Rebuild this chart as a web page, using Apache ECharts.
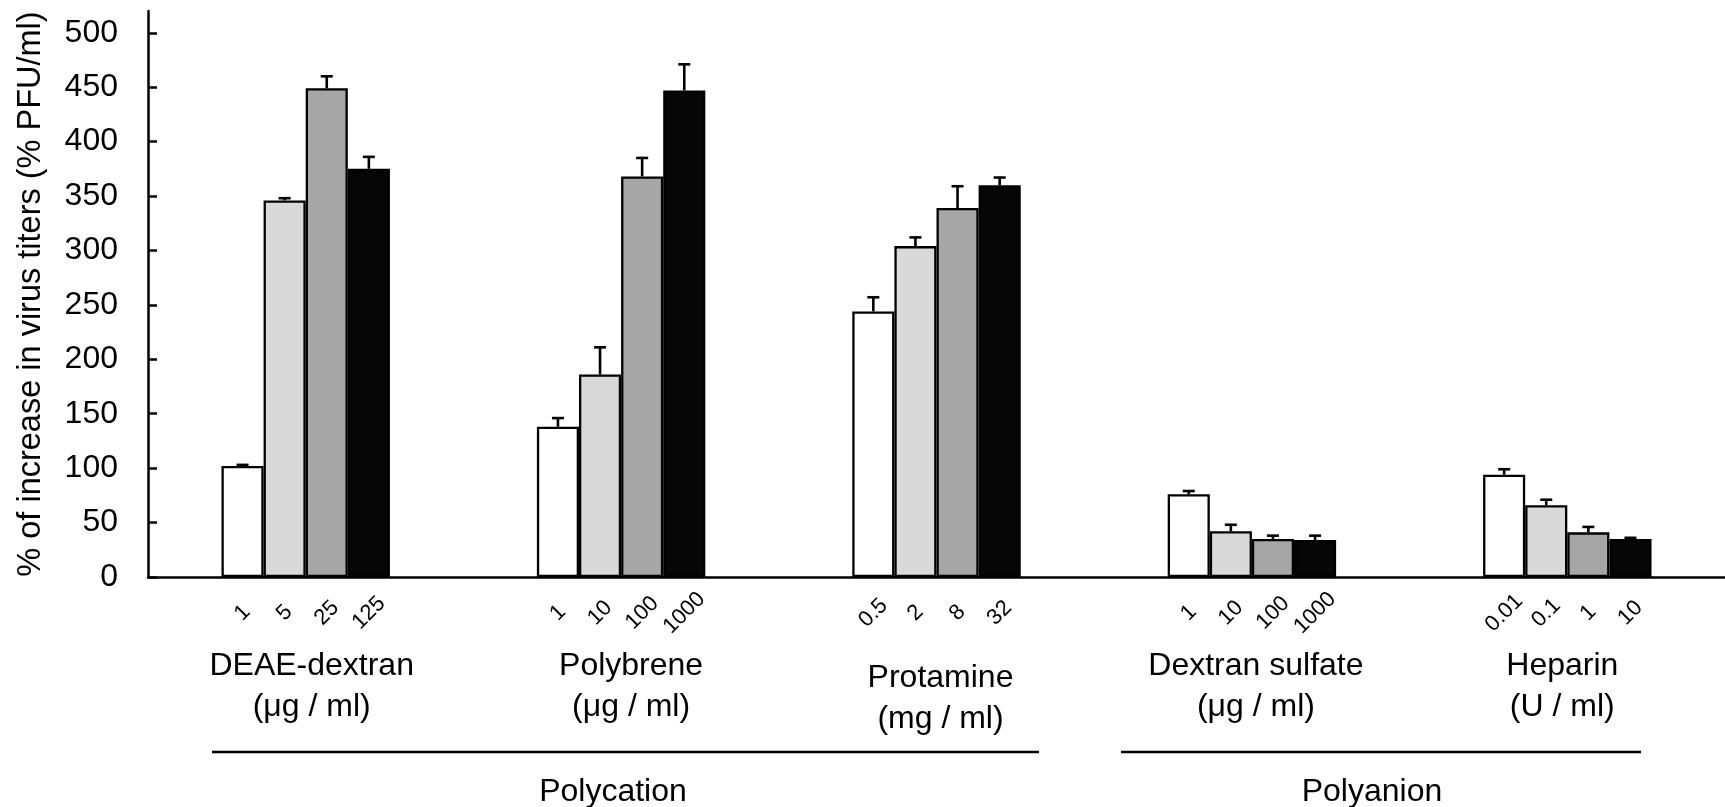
<!DOCTYPE html>
<html>
<head>
<meta charset="utf-8">
<script src="https://cdn.jsdelivr.net/npm/echarts@6/dist/echarts.min.js"></script>
<style>
  html, body { margin: 0; padding: 0; background: #fff; }
  #chart { width: 1725px; height: 807px; }
</style>
</head>
<body>
<div id="chart"></div>
<script>
// Agents (x categories), two-line labels
const agents = ['DEAE-dextran\n(μg / ml)', 'Polybrene\n(μg / ml)', 'Protamine\n(mg / ml)', 'Dextran sulfate\n(μg / ml)', 'Heparin\n(U / ml)'];

// Concentration tick labels, one list per agent (low -> high)
const doses = [
  ['1', '5', '25', '125'],
  ['1', '10', '100', '1000'],
  ['0.5', '2', '8', '32'],
  ['1', '10', '100', '1000'],
  ['0.01', '0.1', '1', '10']
];

// % increase in virus titers, one array per concentration level
const level1 = [102, 138, 244, 76, 94];
const level2 = [346, 186, 304, 42, 66];
const level3 = [449, 368, 339, 35, 41];
const level4 = [375, 447, 360, 34, 35];

// Upper error (SD) for each bar
const err1 = [1, 8, 13, 3, 5];
const err2 = [2, 25, 8, 6, 5];
const err3 = [11, 17, 20, 3, 5];
const err4 = [11, 24, 7, 4, 1];

// y-axis ticks
const yTicks = [0, 50, 100, 150, 200, 250, 300, 350, 400, 450, 500];

const levels = [level1, level2, level3, level4];
const errs = [err1, err2, err3, err4];
const fills = ['#ffffff', '#d9d9d9', '#a6a6a6', '#060606'];
const FONT = "'Liberation Sans', Arial, sans-serif";
const BAR_FRAC = 0.1335;

// small nudges of the agent captions (dx right, dy down), pixels
const captionNudge = [[6, 0], [10, 0], [4, 12], [4, 0], [-5, 0]];

const chart = echarts.init(document.getElementById('chart'), null, { renderer: 'canvas' });

const barSeries = levels.map((vals, li) => ({
  type: 'bar',
  data: vals,
  barWidth: (BAR_FRAC * 100) + '%',
  barGap: '0%',
  itemStyle: { color: fills[li], borderColor: '#000', borderWidth: 2.3 },
  label: {
    show: true,
    position: 'bottom',
    distance: 36,
    rotate: 45,
    align: 'center',
    verticalAlign: 'middle',
    fontFamily: FONT,
    fontSize: 22,
    color: '#000',
    formatter: p => doses[p.dataIndex][li]
  },
  emphasis: { disabled: true },
  silent: true,
  z: 2
}));

const errData = [];
levels.forEach((vals, li) => {
  vals.forEach((v, ci) => errData.push([ci, v, errs[li][ci], li]));
});

const errSeries = {
  type: 'custom',
  data: errData,
  z: 5,
  silent: true,
  renderItem: function (params, api) {
    const ci = api.value(0), v = api.value(1), e = api.value(2), li = api.value(3);
    const band = api.size([1, 0])[0];
    const bw = band * BAR_FRAC;
    const p0 = api.coord([ci, v]);
    const p1 = api.coord([ci, v + e]);
    const x = p0[0] + (li - 1.5) * bw;
    const cap = 6;
    return {
      type: 'group',
      children: [
        { type: 'line', shape: { x1: x, y1: p0[1], x2: x, y2: p1[1] }, style: { stroke: '#000', lineWidth: 2.6 } },
        { type: 'line', shape: { x1: x - cap, y1: p1[1], x2: x + cap, y2: p1[1] }, style: { stroke: '#000', lineWidth: 2.6 } }
      ]
    };
  }
};

const option = {
  backgroundColor: '#fff',
  animation: false,
  grid: { left: 148, top: 11, width: 1585, height: 566, containLabel: false },
  xAxis: {
    type: 'category',
    data: agents.map((a, i) => ({
      value: a,
      textStyle: { padding: [captionNudge[i][1], 0, 0, 2 * captionNudge[i][0]] }
    })),
    axisLine: { lineStyle: { color: '#000', width: 2.5 } },
    axisTick: { show: false },
    axisLabel: {
      interval: 0,
      margin: 69,
      fontFamily: FONT,
      fontSize: 32,
      lineHeight: 41,
      color: '#000'
    },
    splitLine: { show: false }
  },
  yAxis: {
    type: 'value',
    min: 0,
    max: 520,
    interval: 50,
    name: '% of increase in virus titers (% PFU/ml)',
    nameLocation: 'middle',
    nameRotate: 90,
    nameGap: 100,
    nameTextStyle: { fontFamily: FONT, fontSize: 32.5, color: '#000' },
    axisLine: { show: true, lineStyle: { color: '#000', width: 2.5 } },
    axisTick: { show: true, inside: true, length: 9, customValues: yTicks, lineStyle: { color: '#000', width: 2.5 } },
    axisLabel: { customValues: yTicks, margin: 30, fontFamily: FONT, fontSize: 32, color: '#000' },
    splitLine: { show: false }
  },
  series: barSeries.concat([errSeries]),
  graphic: [
    { type: 'line', shape: { x1: 212, y1: 752, x2: 1039, y2: 752 }, style: { stroke: '#000', lineWidth: 2.6 } },
    { type: 'line', shape: { x1: 1121, y1: 752, x2: 1641, y2: 752 }, style: { stroke: '#000', lineWidth: 2.6 } },
    { type: 'text', x: 613, y: 792, style: { text: 'Polycation', font: '32px ' + FONT, fill: '#000', textAlign: 'center', textVerticalAlign: 'middle' } },
    { type: 'text', x: 1372, y: 792, style: { text: 'Polyanion', font: '32px ' + FONT, fill: '#000', textAlign: 'center', textVerticalAlign: 'middle' } }
  ]
};

chart.setOption(option);
</script>
</body>
</html>
